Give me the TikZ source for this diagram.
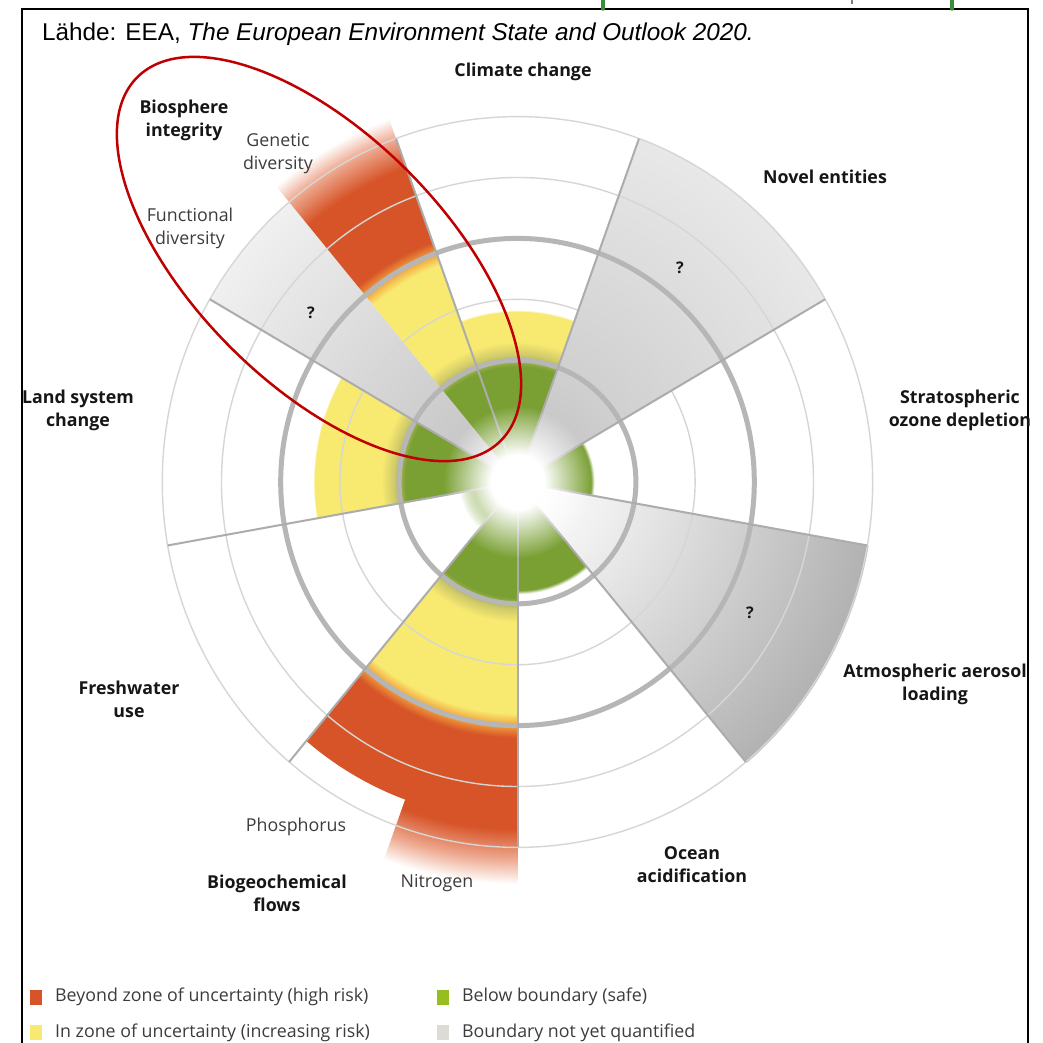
\documentclass[tikz,border=0pt]{standalone}
\usepackage{fontspec}
\setmainfont{Open Sans}
\newfontfamily\titlefont{Liberation Sans}
\usetikzlibrary{fadings}

\definecolor{pbgreen}{RGB}{122,160,52}
\definecolor{pbolive}{RGB}{205,200,105}
\definecolor{pbyellow}{RGB}{248,233,112}
\definecolor{pborange}{RGB}{242,160,60}
\definecolor{pbred}{RGB}{214,84,40}
\definecolor{pbfade}{RGB}{238,170,145}
\definecolor{greyA}{RGB}{190,190,190}
\definecolor{greyB}{RGB}{208,208,208}
\definecolor{greyC}{RGB}{232,232,232}
\definecolor{greyD}{RGB}{240,240,240}
\definecolor{greyE}{RGB}{178,178,178}
\definecolor{ringgrey}{RGB}{182,182,182}
\definecolor{thingrey}{RGB}{214,214,214}
\definecolor{spokegrey}{RGB}{172,172,172}
\definecolor{ovalred}{RGB}{192,0,0}
\definecolor{keygreen}{RGB}{150,190,30}
\definecolor{keygrey}{RGB}{220,220,212}
\definecolor{textgrey}{RGB}{22,22,22}
\definecolor{subgrey}{RGB}{60,60,60}
\definecolor{topgreen}{RGB}{60,140,60}

% status profiles, 1bp = one ring step
\pgfdeclareradialshading{climateshade}{\pgfpointorigin}{color(0bp)=(pbgreen); color(1.9bp)=(pbgreen); color(2.08bp)=(pbolive); color(2.3bp)=(pbyellow); color(2.8bp)=(pbyellow); color(2.82bp)=(white); color(50bp)=(white)}
\pgfdeclareradialshading{geneticshade}{\pgfpointorigin}{color(0bp)=(pbgreen); color(1.9bp)=(pbgreen); color(2.08bp)=(pbolive); color(2.3bp)=(pbyellow); color(3.8bp)=(pbyellow); color(4bp)=(pborange); color(4.2bp)=(pbred); color(5.5bp)=(pbred); color(6bp)=(pbfade); color(6.35bp)=(white); color(50bp)=(white)}
\pgfdeclareradialshading{nitroshade}{\pgfpointorigin}{color(0bp)=(pbgreen); color(1.9bp)=(pbgreen); color(2.08bp)=(pbolive); color(2.3bp)=(pbyellow); color(3.8bp)=(pbyellow); color(4bp)=(pborange); color(4.2bp)=(pbred); color(5.7bp)=(pbred); color(6.2bp)=(pbfade); color(6.6bp)=(white); color(50bp)=(white)}
\pgfdeclareradialshading{landshade}{\pgfpointorigin}{color(0bp)=(pbgreen); color(1.9bp)=(pbgreen); color(2.08bp)=(pbolive); color(2.3bp)=(pbyellow); color(3.43bp)=(pbyellow); color(3.45bp)=(white); color(50bp)=(white)}
\pgfdeclareradialshading{watershade}{\pgfpointorigin}{color(0bp)=(pbgreen); color(0.75bp)=(pbgreen); color(1bp)=(white); color(50bp)=(white)}
\pgfdeclareradialshading{ozoneshade}{\pgfpointorigin}{color(0bp)=(pbgreen); color(1.24bp)=(pbgreen); color(1.3bp)=(white); color(50bp)=(white)}
\pgfdeclareradialshading{oceanshade}{\pgfpointorigin}{color(0bp)=(pbgreen); color(1.78bp)=(pbgreen); color(1.84bp)=(white); color(50bp)=(white)}
\pgfdeclareradialshading{novelshade}{\pgfpointorigin}{color(0bp)=(greyA); color(2bp)=(greyB); color(6bp)=(greyC); color(6.02bp)=(white); color(50bp)=(white)}
\pgfdeclareradialshading{funcshade}{\pgfpointorigin}{color(0bp)=(greyA); color(6bp)=(greyD); color(6.02bp)=(white); color(50bp)=(white)}
\pgfdeclareradialshading{aeroshade}{\pgfpointorigin}{color(0bp)=(white); color(1.5bp)=(greyD); color(6bp)=(greyE); color(6.02bp)=(white); color(50bp)=(white)}
\pgfdeclareradialshading{glowmask}{\pgfpointorigin}{color(0bp)=(white); color(9bp)=(white); color(25bp)=(black); color(50bp)=(black)}
\pgfdeclarefading{glowfade}{\pgfuseshading{glowmask}}

% #1 start, #2 end, #3 outer radius of the clip, #4 shading
\newcommand{\pbwedge}[4]{%
  \begin{scope}
    \clip (0,0) -- (#1:#3) arc[start angle=#1, end angle=#2, radius=#3] -- cycle;
    \shade[shading=#4] (0,0) circle[radius=25];
  \end{scope}}

\begin{document}
\begin{tikzpicture}[x=1pt,y=1pt,
  bigname/.style={font=\bfseries\fontsize{17.8}{23}\selectfont, text=textgrey, align=center, inner sep=0pt},
  subname/.style={font=\fontsize{17.8}{23}\selectfont, text=subgrey, align=center, inner sep=0pt},
  qmark/.style={font=\bfseries\fontsize{16}{18}\selectfont, text=textgrey, inner sep=0pt},
  keybox/.style={minimum width=12pt, minimum height=15pt, inner sep=0pt},
  keytext/.style={font=\fontsize{17.8}{20}\selectfont, text=subgrey, anchor=west, inner sep=0pt},
  thinring/.style={draw=thingrey, line width=1.4pt},
  thickring/.style={draw=ringgrey, line width=5pt},
  spoke/.style={draw=spokegrey, line width=2pt},
  oval/.style={draw=ovalred, line width=2.5pt}]
\useasboundingbox (-517.5,-560) rectangle (525.5,482);

% frame and cut-off marks
\draw[line width=2pt] (-495.5,-575) -- (-495.5,473) -- (510.5,473) -- (510.5,-575);
\draw[topgreen, line width=3.5pt, line cap=round] (85.5,484) -- (85.5,473);
\draw[topgreen, line width=3.5pt, line cap=round] (434.5,484) -- (434.5,473);
\draw[gray, line width=2pt] (334.5,484) -- (334.5,478);

\node[font=\titlefont\fontsize{24.3}{28}\selectfont, anchor=west, inner sep=0pt] (title) at (-475.5,448)
  {Lähde: EEA, \textit{The European Environment State and Outlook 2020.}};

\begin{scope}[x=59.2pt, y=60.9pt]
\pbwedge{70}{110}{7}{climateshade}
\pbwedge{30}{70}{7}{novelshade}
\pbwedge{-10}{30}{7}{ozoneshade}
\pbwedge{-50}{-10}{7}{aeroshade}
\pbwedge{-90}{-50}{7}{oceanshade}
\pbwedge{-110}{-90}{7}{nitroshade}
\pbwedge{-130}{-109.5}{5.55}{nitroshade}
\pbwedge{-170}{-130}{7}{watershade}
\pbwedge{150}{190}{7}{landshade}
\pbwedge{130}{150}{7}{funcshade}
\pbwedge{110}{130}{7}{geneticshade}

\foreach \r in {3,5,6} {
\draw[thinring] (0,0) circle[radius=\r];
}
\foreach \r in {2,4} {
\draw[thickring] (0,0) circle[radius=\r];
}
\foreach \a in {110,70,30,-10,-50,-90,-130,-170,150} {
\draw[spoke] (\a:0.15) -- (\a:6);
}
\fill[white, path fading=glowfade] (0,0) circle[radius=1.25];
\end{scope}

\node[bigname] (climate) at (5.5,410) {Climate change};
\node[bigname] (novel) at (307.5,305) {Novel entities};
\node[bigname] (ozone) at (442.5,72) {Stratospheric\\ozone depletion};
\node[bigname] (aerosol) at (417.5,-202) {Atmospheric aerosol\\loading};
\node[bigname] (ocean) at (174.5,-383) {Ocean\\acidification};
\node[bigname] (biogeo) at (-240.5,-411) {Biogeochemical\\flows};
\node[subname] (nitrogen) at (-80.5,-401) {Nitrogen};
\node[subname] (phosphorus) at (-221.5,-345) {Phosphorus};
\node[bigname] (freshwater) at (-388.5,-217) {Freshwater\\use};
\node[bigname] (landsys) at (-439.5,72) {Land system\\change};
\node[bigname] (biosphere) at (-333.5,362) {Biosphere\\integrity};
\node[subname] (genetic) at (-239.5,328) {Genetic\\diversity};
\node[subname] (functional) at (-327.5,254) {Functional\\diversity};

\node[qmark] (qfunc) at (-206.5,169) {?};
\node[qmark] (qnovel) at (162.5,214) {?};
\node[qmark] (qaero) at (232.5,-131) {?};

\draw[oval, rotate around={-45:(-198.5,223)}] (-198.5,223) ellipse[x radius=257, y radius=125];

% legend
\node[keybox, fill=pbred] (keyhigh) at (-481.5,-515.5) {};
\node[keytext] (keyhightext) at (-462.5,-515) {Beyond zone of uncertainty (high risk)};
\node[keybox, fill=keygreen] (keysafe) at (-74.5,-515.5) {};
\node[keytext] (keysafetext) at (-55.5,-515) {Below boundary (safe)};
\node[keybox, fill=pbyellow] (keyrisk) at (-481.5,-550.5) {};
\node[keytext] (keyrisktext) at (-462.5,-551) {In zone of uncertainty (increasing risk)};
\node[keybox, fill=keygrey] (keynone) at (-74.5,-550.5) {};
\node[keytext] (keynonetext) at (-55.5,-551) {Boundary not yet quantified};
\end{tikzpicture}
\end{document}
